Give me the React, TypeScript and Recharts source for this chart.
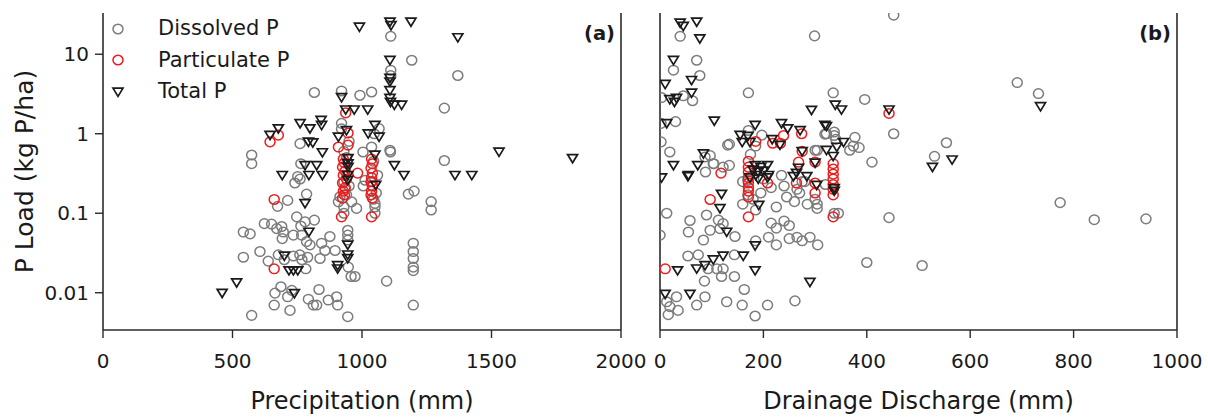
import React from 'react';
import { ScatterChart, Scatter, XAxis, YAxis, Legend } from 'recharts';

// ---- data: [mm, kg P/ha] ----
const precipDissolved: [number, number][] = [
  [1111, 16.8], [1192, 8.4], [1111, 6.3], [1111, 5.4], [1370, 5.4], [816, 3.3], [921, 3.45], [992, 3.05],
  [1037, 3.35], [1318, 2.1], [921, 1.35], [921, 1.15], [1047, 1.0], [1066, 1.16], [574, 0.54], [574, 0.42],
  [761, 0.75], [1037, 0.68], [1108, 0.62], [1004, 0.59], [1110, 0.59], [1318, 0.46], [764, 0.42], [752, 0.29],
  [741, 0.24], [761, 0.27], [786, 0.174], [674, 0.122], [713, 0.145], [1179, 0.174], [1201, 0.19], [909, 0.139],
  [915, 0.161], [960, 0.139], [979, 0.115], [1005, 0.22], [1012, 0.26], [1050, 0.133], [1050, 0.12], [1267, 0.14],
  [1267, 0.11], [930, 0.12], [930, 0.1], [940, 0.17], [935, 0.2], [930, 0.25], [945, 0.3], [950, 0.22],
  [1050, 0.1], [1045, 0.15], [1055, 0.18], [1040, 0.25], [1060, 0.3], [940, 0.5], [930, 0.6], [950, 0.8],
  [1045, 0.45], [748, 0.09], [780, 0.078], [816, 0.082], [764, 0.069], [623, 0.074], [651, 0.073], [671, 0.064],
  [690, 0.068], [696, 0.058], [542, 0.058], [568, 0.055], [735, 0.053], [767, 0.053], [786, 0.044], [692, 0.048],
  [799, 0.04], [844, 0.042], [876, 0.051], [945, 0.061], [945, 0.053], [945, 0.046], [606, 0.033], [542, 0.028],
  [638, 0.025], [677, 0.03], [700, 0.026], [735, 0.029], [760, 0.03], [768, 0.026], [790, 0.028], [838, 0.027],
  [783, 0.02], [857, 0.034], [896, 0.034], [947, 0.021], [958, 0.016], [973, 0.016], [1198, 0.042], [1198, 0.033],
  [1198, 0.027], [1198, 0.021], [1198, 0.019], [1095, 0.014], [687, 0.0119], [664, 0.0099], [834, 0.011],
  [729, 0.0107], [713, 0.0089], [793, 0.0083], [812, 0.007], [825, 0.007], [870, 0.0081], [902, 0.0089],
  [906, 0.007], [661, 0.007], [722, 0.006], [574, 0.0052], [945, 0.005], [1198, 0.007],
];
const precipParticulate: [number, number][] = [
  [645, 0.79], [677, 0.96], [937, 1.83], [909, 0.68], [946, 1.02], [946, 0.72], [928, 0.48], [932, 0.43],
  [925, 0.38], [935, 0.34], [928, 0.3], [940, 0.27], [925, 0.24], [935, 0.21], [928, 0.19], [932, 0.17],
  [925, 0.155], [983, 0.32], [1037, 0.48], [1040, 0.42], [1035, 0.37], [1040, 0.32], [1037, 0.28], [1035, 0.25],
  [1040, 0.22], [1037, 0.19], [1035, 0.17], [1040, 0.155], [921, 0.09], [1037, 0.09], [661, 0.149], [661, 0.02],
];
const precipTotal: [number, number][] = [
  [990, 22], [1108, 25.5], [1112, 23], [1189, 25.5], [1370, 16.2], [1108, 8.4], [1108, 5.0], [1108, 4.5],
  [1108, 3.5], [1108, 2.8], [1110, 2.5], [1125, 2.3], [1153, 2.3], [921, 2.86], [937, 2.0], [970, 2.0],
  [1022, 2.0], [645, 0.96], [677, 1.16], [761, 1.35], [799, 1.16], [842, 1.48], [844, 1.28], [793, 0.79],
  [810, 0.77], [847, 0.58], [909, 0.91], [940, 1.1], [1024, 1.0], [1050, 1.28], [1066, 0.91], [1050, 0.54],
  [780, 0.4], [825, 0.4], [946, 0.42], [946, 0.49], [946, 0.38], [1125, 0.4], [692, 0.3], [795, 0.3],
  [847, 0.3], [945, 0.3], [945, 0.26], [1162, 0.3], [1053, 0.226], [1359, 0.3], [1424, 0.3], [1529, 0.59],
  [1813, 0.49], [780, 0.133], [795, 0.058], [945, 0.04], [945, 0.03], [945, 0.027], [700, 0.029], [718, 0.019],
  [735, 0.019], [752, 0.019], [906, 0.022], [906, 0.02], [516, 0.0134], [460, 0.0099], [739, 0.0098],
];

const drainDissolved: [number, number][] = [
  [452, 31], [299, 17], [39, 16.8], [71, 8.4], [26, 6.3], [77, 5.4], [691, 4.4], [732, 3.2], [3, 2.85],
  [45, 3.0], [63, 2.6], [171, 3.27], [335, 3.27], [396, 2.7], [2, 1.35], [30, 1.42], [2, 0.79], [19, 0.59],
  [131, 0.72], [171, 1.1], [197, 0.96], [319, 0.99], [337, 1.05], [337, 0.95], [340, 0.85], [300, 0.62],
  [367, 0.62], [377, 0.9], [385, 0.67], [452, 1.0], [410, 0.44], [554, 0.77], [531, 0.52], [87, 0.51],
  [103, 0.42], [122, 0.38], [235, 0.3], [134, 0.74], [134, 0.4], [104, 0.42], [88, 0.33], [97, 0.53],
  [774, 0.136], [840, 0.083], [940, 0.085], [443, 0.088], [400, 0.024], [507, 0.022], [13, 0.1], [0, 0.053],
  [58, 0.081], [55, 0.058], [90, 0.095], [97, 0.061], [84, 0.046], [113, 0.082], [122, 0.074], [116, 0.064],
  [145, 0.051], [144, 0.03], [54, 0.029], [74, 0.03], [110, 0.02], [122, 0.02], [93, 0.02], [119, 0.016],
  [144, 0.016], [86, 0.014], [163, 0.011], [32, 0.0089], [13, 0.0077], [19, 0.0067], [35, 0.006], [16, 0.0053],
  [71, 0.007], [87, 0.0089], [129, 0.0077], [159, 0.007], [184, 0.0051], [208, 0.007], [261, 0.0079],
  [160, 0.13], [170, 0.17], [180, 0.15], [185, 0.11], [195, 0.18], [215, 0.075], [225, 0.065], [240, 0.08],
  [250, 0.07], [185, 0.045], [210, 0.05], [225, 0.04], [250, 0.048], [265, 0.05], [275, 0.045], [290, 0.05],
  [305, 0.04], [225, 0.12], [245, 0.16], [260, 0.14], [270, 0.18], [285, 0.13], [300, 0.15], [304, 0.13],
  [304, 0.115], [337, 0.1], [345, 0.1], [160, 0.25], [170, 0.26], [200, 0.27], [215, 0.21], [240, 0.22],
  [265, 0.2], [280, 0.25], [320, 0.23], [304, 0.62], [322, 1.0], [374, 0.7], [175, 0.55], [185, 0.7], [275, 0.25],
];
const drainParticulate: [number, number][] = [
  [443, 1.8], [239, 0.95], [274, 1.0], [218, 0.76], [233, 0.76], [185, 0.8], [118, 0.32], [97, 0.149],
  [10, 0.02], [171, 0.45], [171, 0.38], [171, 0.33], [171, 0.28], [171, 0.24], [171, 0.21], [171, 0.19],
  [171, 0.16], [171, 0.09], [268, 0.44], [264, 0.24], [300, 0.44], [300, 0.24], [300, 0.18], [208, 0.24],
  [335, 0.42], [335, 0.36], [335, 0.31], [335, 0.27], [335, 0.23], [335, 0.2], [335, 0.17], [335, 0.09], [275, 0.6],
];
const drainTotal: [number, number][] = [
  [39, 24.7], [45, 22.5], [71, 25.5], [77, 15.7], [26, 8.4], [10, 4.2], [61, 4.7], [61, 3.26], [19, 2.7],
  [28, 2.5], [32, 2.8], [13, 1.35], [105, 1.45], [293, 1.98], [339, 2.3], [351, 2.0], [443, 2.0], [736, 2.2],
  [527, 0.38], [565, 0.47], [322, 1.24], [184, 1.28], [235, 1.35], [247, 1.16], [271, 1.1], [319, 1.28],
  [155, 0.96], [159, 0.78], [170, 0.93], [174, 0.78], [217, 0.85], [232, 0.72], [355, 0.78], [84, 0.56],
  [322, 0.62], [335, 0.52], [342, 0.68], [26, 0.4], [73, 0.4], [55, 0.3], [184, 0.4], [208, 0.4], [268, 0.37],
  [264, 0.32], [300, 0.43], [275, 0.6], [180, 0.35], [190, 0.33], [195, 0.38], [185, 0.3], [200, 0.34],
  [210, 0.3], [3, 0.28], [54, 0.29], [119, 0.174], [116, 0.115], [191, 0.126], [303, 0.225], [337, 0.205],
  [337, 0.19], [258, 0.29], [284, 0.29], [174, 0.28], [190, 0.27], [208, 0.28], [129, 0.058], [184, 0.039],
  [103, 0.026], [122, 0.029], [161, 0.029], [87, 0.022], [71, 0.02], [34, 0.019], [184, 0.019], [290, 0.0136],
  [10, 0.0096], [58, 0.0096],
];

const yTicks = [0.01, 0.1, 1, 10];
const yDomain: [number, number] = [0.0034, 33];
const precipTicks = [0, 500, 1000, 1500, 2000];
const drainTicks = [0, 200, 400, 600, 800, 1000];
const seriesNames = ['Dissolved P', 'Particulate P', 'Total P'];

const FONT = '"DejaVu Sans", sans-serif';
const INK = '#1a1a1a';
const AXIS = '#2b2b2b';
const GRAY = '#7c7c7c';
const RED = '#ee1c1c';

const toPts = (a: [number, number][]) => a.map(([x, y]) => ({ x, y }));

// marker shapes
const ring = (color: string) => (p: any) =>
  <ellipse cx={p.cx} cy={p.cy} rx={5} ry={4.8} fill="none" stroke={color} strokeWidth={1.5} />;
const tri = (p: any) =>
  <polygon points={`${p.cx - 5},${p.cy - 3.8} ${p.cx + 5},${p.cy - 3.8} ${p.cx},${p.cy + 4.4}`}
    fill="none" stroke={INK} strokeWidth={1.7} />;

function LegendBox() {
  const marks = [
    <ellipse key="d" cx={10} cy={10} rx={5} ry={4.8} fill="none" stroke={GRAY} strokeWidth={1.5} />,
    <ellipse key="p" cx={10} cy={10} rx={5} ry={4.8} fill="none" stroke={RED} strokeWidth={1.5} />,
    <polygon key="t" points="5,6.2 15,6.2 10,14.4" fill="none" stroke={INK} strokeWidth={1.7} />,
  ];
  return (
    <div style={{ fontFamily: FONT, fontSize: 21, color: INK }}>
      {seriesNames.map((n, i) => (
        <div key={n} style={{ display: 'flex', alignItems: 'center', height: 31.5 }}>
          <svg width={20} height={20}>{marks[i]}</svg>
          <span style={{ marginLeft: 30, lineHeight: 1 }}>{n}</span>
        </div>
      ))}
    </div>
  );
}

const tickStyle = { fontSize: 20, fontFamily: FONT, fill: INK };

// panel tag "(a)" / "(b)" hung on the right-hand y axis
function tag(text: string) {
  return (p: any) => {
    const vb = p.viewBox ?? {};
    return (
      <text x={(vb.x ?? 0) - 6} y={(vb.y ?? 13) + 26.5} textAnchor="end"
        fontFamily={FONT} fontWeight="bold" fontSize={19.5} fill={INK}>{text}</text>
    );
  };
}

function yTitle(p: any) {
  const vb = p.viewBox ?? {};
  const x = (vb.x ?? 0) + 24;
  const y = (vb.y ?? 13) + (vb.height ?? 317) / 2;
  return (
    <text x={x} y={y} transform={`rotate(-90 ${x} ${y})`} textAnchor="middle" dominantBaseline="central"
      fontFamily={FONT} fontSize={25} fill={INK}>P Load (kg P/ha)</text>
  );
}

function Panel({ dis, part, tot, xTicks, xMax, xTitle, label, leftW, rightW, width, showY }: {
  dis: [number, number][]; part: [number, number][]; tot: [number, number][];
  xTicks: number[]; xMax: number; xTitle: string; label: string;
  leftW: number; rightW: number; width: number; showY: boolean;
}) {
  const axisLine = { stroke: AXIS, strokeWidth: 1.6 };
  return (
    <ScatterChart width={width} height={417} margin={{ top: 13, right: 0, bottom: 0, left: 0 }}>
      <XAxis xAxisId="b" type="number" dataKey="x" domain={[0, xMax]} ticks={xTicks} height={87}
        axisLine={axisLine} tickLine={{ stroke: AXIS, strokeWidth: 1.4 }} tickSize={8} tickMargin={16}
        tick={tickStyle} allowDataOverflow
        label={{ value: xTitle, position: 'insideBottom', offset: 8, style: { fontSize: 24, fontFamily: FONT, fill: INK } }} />
      <XAxis xAxisId="t" orientation="top" type="number" dataKey="x" domain={[0, xMax]} height={0}
        axisLine={axisLine} tick={false} tickLine={false} />
      <YAxis yAxisId="l" type="number" dataKey="y" scale="log" domain={yDomain} allowDataOverflow ticks={yTicks}
        width={leftW} axisLine={axisLine} tickLine={{ stroke: AXIS, strokeWidth: 1.4 }} tickSize={8} tickMargin={6}
        tick={showY ? tickStyle : false} label={showY ? { content: yTitle } : undefined} />
      <YAxis yAxisId="r" orientation="right" type="number" dataKey="y" scale="log" domain={yDomain}
        allowDataOverflow ticks={yTicks} width={rightW} axisLine={axisLine}
        tickLine={{ stroke: AXIS, strokeWidth: 1.4 }} tickSize={8} tick={false} label={{ content: tag(label) }} />
      <Scatter name={seriesNames[0]} data={toPts(dis)} xAxisId="b" yAxisId="l" shape={ring(GRAY)} isAnimationActive={false} />
      <Scatter name={seriesNames[1]} data={toPts(part)} xAxisId="b" yAxisId="l" shape={ring(RED)} isAnimationActive={false} />
      <Scatter name={seriesNames[2]} data={toPts(tot)} xAxisId="b" yAxisId="l" shape={tri} isAnimationActive={false} />
      {showY && (
        <Legend layout="vertical" align="center" verticalAlign="middle"
          wrapperStyle={{ left: 108, top: 13, width: 220 }} content={() => <LegendBox />} />
      )}
    </ScatterChart>
  );
}

export default function App() {
  return (
    <div style={{ position: 'absolute', left: 0, top: 0, width: 1208, height: 417, background: '#fff', overflow: 'hidden' }}>
      <div style={{ position: 'absolute', left: 0, top: 0 }}>
        <Panel dis={precipDissolved} part={precipParticulate} tot={precipTotal} xTicks={precipTicks} xMax={2000}
          xTitle="Precipitation (mm)" label="(a)" leftW={103} rightW={39} width={660} showY />
      </div>
      <div style={{ position: 'absolute', left: 640, top: 0 }}>
        <Panel dis={drainDissolved} part={drainParticulate} tot={drainTotal} xTicks={drainTicks} xMax={1000}
          xTitle="Drainage Discharge (mm)" label="(b)" leftW={20} rightW={31} width={568} showY={false} />
      </div>
    </div>
  );
}
